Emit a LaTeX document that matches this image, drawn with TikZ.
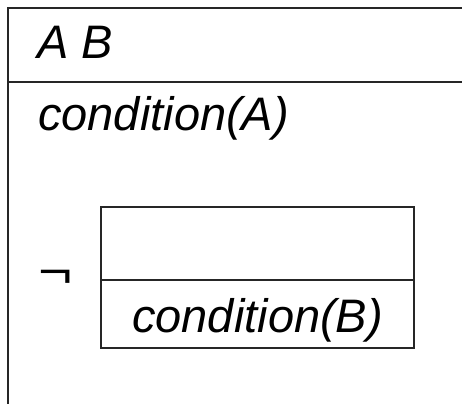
\documentclass[tikz,border=0pt]{standalone}
\usepackage{fontspec}
\setmainfont{Liberation Sans}
\begin{document}
\begin{tikzpicture}[x=1pt,y=-1pt,
  rule/.style={line width=1.7pt, black!85},
  label/.style={anchor=base west, inner sep=0pt, font=\fontsize{47}{50}\selectfont\itshape}]
\useasboundingbox (0,0) rectangle (462,404);
% outer frame, running off the right and bottom edges
\draw[rule] (462,8) -- (8,8) -- (8,404);
\draw[rule] (8,82) -- (462,82);
\node[label] (ab) at (37,58) {A B};
\node[label] (condA) at (38,130) {condition(A)};
% negated inner box
\node[anchor=base west, inner sep=0pt, font=\fontsize{47}{50}\selectfont, xscale=1.25] (neg) at (38,287) {¬};
\draw[rule] (101,207) rectangle (414,348);
\draw[rule] (101,280) -- (414,280);
\node[label] (condB) at (132,332) {condition(B)};
\end{tikzpicture}
\end{document}
